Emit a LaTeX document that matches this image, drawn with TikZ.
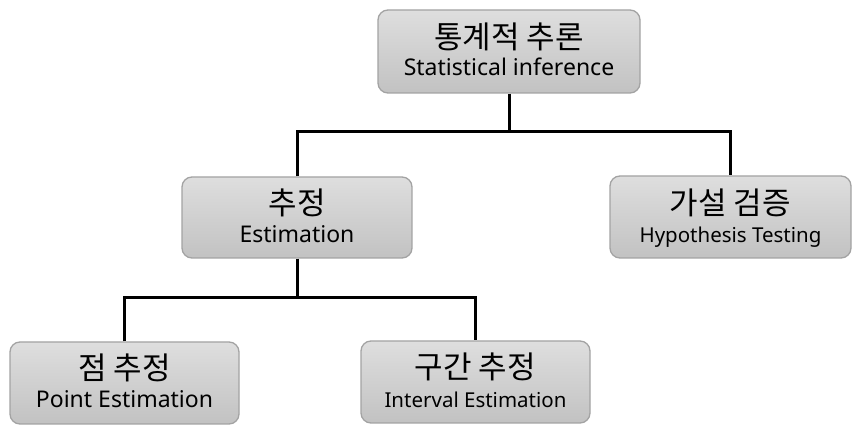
\documentclass[tikz,border=0pt]{standalone}
\usepackage{fontspec}
\setmainfont{Noto Sans CJK KR}
\newfontfamily\enfont{Noto Sans}
\definecolor{boxtop}{HTML}{DEDEDE}
\definecolor{boxbot}{HTML}{C2C2C2}
\definecolor{boxline}{HTML}{A3A3A3}
\begin{document}
\begin{tikzpicture}[x=1pt,y=-1pt,
  box/.style={draw=boxline, line width=1.3pt, rounded corners=10pt, top color=boxtop, bottom color=boxbot, inner sep=0pt},
  krtext/.style={anchor=base, inner sep=0pt, font=\fontsize{31}{34}\selectfont},
  entext/.style={anchor=base, inner sep=0pt, font=\enfont\fontsize{23}{26}\selectfont},
  ensmall/.style={anchor=base, inner sep=0pt, font=\enfont\fontsize{20.5}{24}\selectfont},
  conn/.style={line width=3pt, black}]
\useasboundingbox (0,0) rectangle (857,435);
\fill[white] (0,0) rectangle (857,435);
% boxes
\node[box, minimum width=262pt, minimum height=83pt] (top) at (509,51.5) {};
\node[box, minimum width=230pt, minimum height=81pt] (est) at (297,217.5) {};
\node[box, minimum width=241pt, minimum height=82pt] (hyp) at (730.5,217) {};
\node[box, minimum width=229pt, minimum height=82pt] (pt) at (124.5,383) {};
\node[box, minimum width=229pt, minimum height=82pt] (iv) at (475.5,382) {};
% texts
\node[krtext] (topk) at (509,49) {통계적 추론};
\node[entext] (tope) at (509,76) {Statistical inference};
\node[krtext] (estk) at (297,215) {추정};
\node[entext] (este) at (297,243) {Estimation};
\node[krtext] (hypk) at (730.5,215) {가설 검증};
\node[ensmall] (hype) at (730.5,243) {Hypothesis Testing};
\node[krtext] (ptk) at (124.5,380) {점 추정};
\node[entext] (pte) at (124.5,408) {Point Estimation};
\node[krtext] (ivk) at (475.5,379) {구간 추정};
\node[ensmall] (ive) at (475.5,408) {Interval Estimation};
% connectors
\coordinate (j1) at (509,132);
\coordinate (j2) at (297,298);
\draw[conn] (top.south) -- (j1);
\draw[conn] (est.north) |- (j1) -| (hyp.north);
\draw[conn] (est.south) -- (j2);
\draw[conn] (pt.north) |- (j2) -| (iv.north);
\end{tikzpicture}
\end{document}
